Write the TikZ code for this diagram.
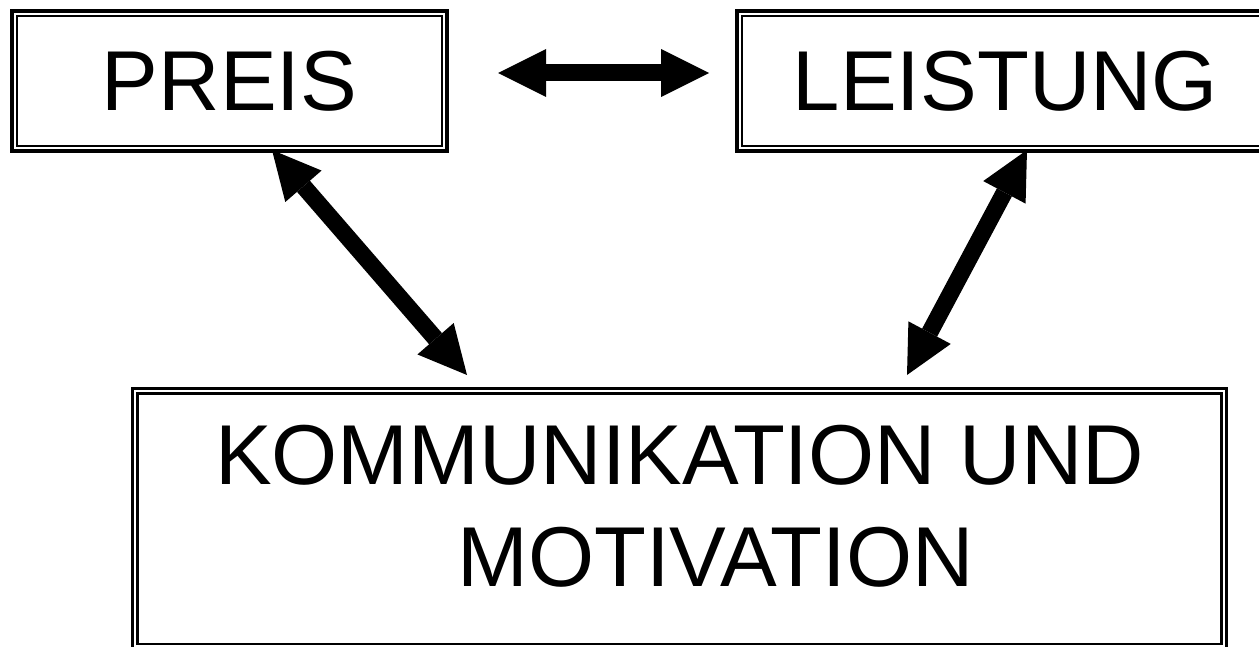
\documentclass[tikz,border=0pt]{standalone}
\usepackage{fontspec}
\setmainfont{Liberation Sans}
\usetikzlibrary{arrows.meta}

\begin{document}
\begin{tikzpicture}[
  x=1pt, y=-1pt,
  dblbox/.style={draw, line width=3.5pt, inner sep=0pt,
    font=\fontsize{85}{102}\selectfont,
    path picture={\draw[line width=2.5pt]
      ([shift={(5pt,-5pt)}]path picture bounding box.north west) rectangle
      ([shift={(-5pt,5pt)}]path picture bounding box.south east);}},
  arr/.style={{Triangle[length=48pt, width=48pt, line width=0pt]}-{Triangle[length=48pt, width=48pt, line width=0pt]},
    line width=17pt},
]
  \useasboundingbox (0,0) rectangle (1259,647);
  \clip (0,0) rectangle (1259,647);

  % boxes
  \node[dblbox, minimum width=435pt, minimum height=140pt] (preis) at (229.5,81) {PREIS};
  \node[dblbox, minimum width=537pt, minimum height=140pt] (leistung) at (1005.5,81) {LEISTUNG};
  \node[dblbox, minimum width=1094pt, minimum height=260.5pt, align=center, text depth=25pt]
    (komm) at (679.5,518.75) {KOMMUNIKATION UND\\\hspace*{72pt}MOTIVATION};

  % arrows
  \draw[arr] ([shift={(49.25,-8)}]preis.east) -- ([shift={(-26.25,-8)}]leistung.west);
  \draw[arr] ([shift={(42.5,-2.75)}]preis.south) -- ([shift={(-212.5,-11.75)}]komm.north);
  \draw[arr] ([shift={(21.5,-2.75)}]leistung.south) -- ([shift={(227.5,-11.75)}]komm.north);
\end{tikzpicture}
\end{document}
